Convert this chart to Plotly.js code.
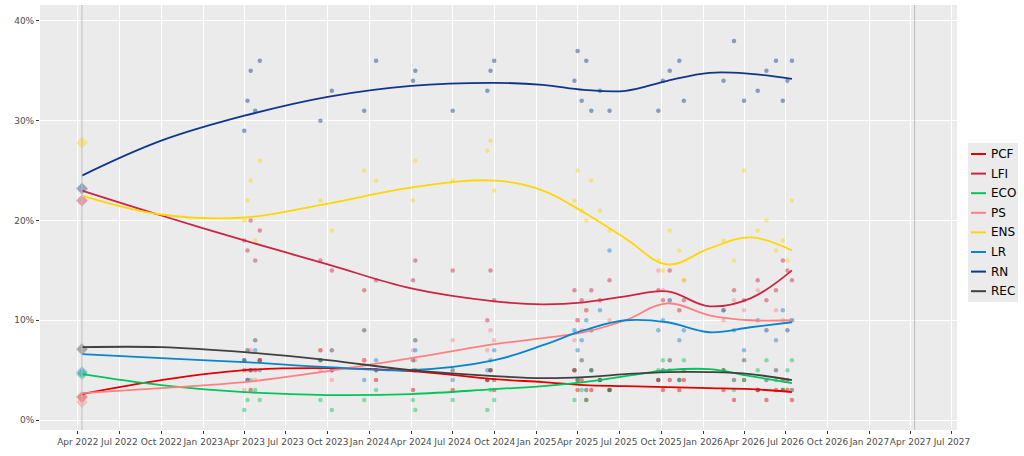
<!DOCTYPE html>
<html>
<head>
<meta charset="utf-8">
<script src="https://cdn.plot.ly/plotly-3.0.1.min.js"></script>
<style>body{margin:0;background:#fff}</style>
</head>
<body>
<div id="chart" style="width:1024px;height:456px"></div>
<script>
// parties and colours
var parties = ["PCF", "LFI", "ECO", "PS", "ENS", "LR", "RN", "REC"];
var colors = ["#e00000", "#cc2443", "#00c65a", "#ff8080", "#ffd600", "#0a85cc", "#0d378a", "#404040"];

// 2022 election result
var electionDate = "2022-04-10";
var electionVals = [2.3, 22.0, 4.6, 1.8, 27.8, 4.8, 23.2, 7.1];

// trend lines
var trendDates = ["2022-04-10", "2022-10-01", "2023-04-01", "2023-10-01", "2024-04-01", "2024-10-01",
                  "2025-01-15", "2025-04-15", "2025-07-15", "2025-10-15", "2026-01-15", "2026-04-15", "2026-07-15"];
var trend = {
  PCF: [2.6, 4.0, 5.0, 5.2, 4.9, 4.1, 3.8, 3.5, 3.4, 3.3, 3.2, 3.1, 2.8],
  LFI: [23.0, 20.5, 18.0, 15.6, 13.2, 11.9, 11.6, 11.8, 12.4, 12.9, 11.4, 12.2, 15.0],
  ECO: [4.6, 3.5, 2.8, 2.5, 2.6, 3.1, 3.4, 3.8, 4.4, 5.0, 5.1, 4.4, 3.7],
  PS:  [2.7, 3.2, 3.8, 4.9, 6.2, 7.6, 8.2, 8.8, 10.0, 11.7, 10.5, 10.0, 10.0],
  ENS: [22.5, 20.6, 20.3, 21.7, 23.3, 24.0, 23.0, 20.8, 18.2, 15.6, 17.2, 18.3, 17.0],
  LR:  [6.6, 6.2, 5.8, 5.3, 5.0, 6.0, 7.5, 9.0, 10.0, 9.8, 8.8, 9.3, 9.8],
  RN:  [24.5, 28.0, 30.5, 32.4, 33.5, 33.8, 33.6, 33.1, 33.0, 34.0, 34.8, 34.7, 34.2],
  REC: [7.3, 7.3, 6.8, 6.0, 5.0, 4.4, 4.2, 4.3, 4.6, 4.8, 4.8, 4.6, 4.0]
};

// polls
var pollDates = ["2023-04-01", "2023-04-08", "2023-04-15", "2023-04-25", "2023-05-05", "2023-09-15", "2023-10-10",
  "2023-12-20", "2024-01-15", "2024-04-05", "2024-04-10", "2024-07-01", "2024-09-15", "2024-09-22", "2024-09-30",
  "2025-03-25", "2025-04-01", "2025-04-10", "2025-04-20", "2025-05-01", "2025-05-20", "2025-06-10",
  "2025-09-25", "2025-10-05", "2025-10-20", "2025-11-10", "2025-11-20", "2026-02-15", "2026-03-10", "2026-04-01",
  "2026-05-01", "2026-05-20", "2026-06-10", "2026-06-25", "2026-07-05", "2026-07-15"];
var polls = {
  PCF: [5, 4, 3, 5, 6, 7, 5, 6, 4, 3, 5, 3, 4, 5, 3, 5, 3, 4, 2, 3, 4, 3, 4, 3, 4, 3, 4, 3, 2, 4, 3, 2, 3, 4, 3, 2],
  LFI: [18, 17, 20, 16, 19, 16, 15, 13, 14, 14, 16, 15, 10, 15, 12, 13, 10, 12, 11, 13, 12, 14, 13, 12, 15, 11, 12, 11, 13, 12, 14, 12, 13, 16, 15, 14],
  ECO: [1, 2, 4, 3, 2, 2, 1, 2, 3, 2, 1, 2, 1, 3, 2, 2, 4, 3, 2, 5, 4, 3, 5, 6, 5, 4, 6, 5, 3, 4, 5, 6, 4, 3, 5, 6],
  PS:  [3, 5, 7, 4, 6, 5, 4, 6, 5, 7, 6, 8, 7, 9, 8, 8, 10, 9, 11, 9, 12, 10, 15, 13, 12, 11, 14, 10, 12, 11, 13, 9, 11, 10, 9, 10],
  ENS: [20, 22, 24, 18, 26, 22, 19, 25, 24, 22, 26, 24, 27, 28, 23, 22, 25, 21, 20, 24, 21, 19, 16, 15, 19, 17, 14, 18, 16, 25, 19, 20, 17, 18, 16, 22],
  LR:  [6, 4, 5, 7, 5, 6, 5, 4, 6, 5, 7, 4, 5, 6, 7, 9, 7, 8, 10, 9, 11, 17, 9, 10, 12, 8, 9, 11, 9, 7, 10, 9, 8, 11, 9, 10],
  RN:  [29, 32, 35, 31, 36, 30, 33, 31, 36, 34, 35, 31, 33, 35, 36, 34, 37, 32, 36, 31, 33, 31, 31, 34, 35, 36, 32, 34, 38, 32, 33, 35, 36, 32, 34, 36],
  REC: [6, 7, 5, 8, 6, 6, 7, 9, 5, 6, 8, 5, 4, 5, 4, 5, 4, 6, 3, 5, 4, 3, 4, 5, 6, 4, 5, 5, 4, 6, 3, 4, 5, 3, 4, 3]
};

var data = [];
parties.forEach(function (p, i) {
  data.push({
    x: pollDates, y: polls[p], type: "scatter", mode: "markers",
    marker: { color: colors[i], size: 4.5, opacity: 0.45 },
    showlegend: false, hoverinfo: "skip"
  });
  data.push({
    x: [electionDate], y: [electionVals[i]], type: "scatter", mode: "markers",
    marker: { color: colors[i], size: 9, opacity: 0.4, symbol: "diamond" },
    showlegend: false, hoverinfo: "skip"
  });
});
parties.forEach(function (p, i) {
  data.push({
    x: trendDates, y: trend[p], type: "scatter", mode: "lines", name: p,
    line: { color: colors[i], width: 1.8, shape: "spline", smoothing: 1.1 },
    showlegend: false
  });
});

// compact legend (ggplot-style) drawn with shapes + annotations
var W = 917, H = 425, L = 40, T = 5;
function px(v) { return (v - L) / W; }
function py(v) { return (T + H - v) / H; }
var shapes = [
  { type: "line", xref: "x", yref: "paper", x0: "2022-04-10", x1: "2022-04-10", y0: 0, y1: 1, line: { color: "#bdbdbd", width: 1 } },
  { type: "line", xref: "x", yref: "paper", x0: "2027-04-10", x1: "2027-04-10", y0: 0, y1: 1, line: { color: "#bdbdbd", width: 1 } },
  { type: "rect", xref: "paper", yref: "paper", x0: px(968), x1: px(1018), y0: py(302), y1: py(143), fillcolor: "#ebebeb", line: { width: 0 }, layer: "below" }
];
var annotations = [];
parties.forEach(function (p, i) {
  var yy = 154 + 19.6 * i;
  shapes.push({ type: "line", xref: "paper", yref: "paper", x0: px(971), x1: px(986), y0: py(yy), y1: py(yy), line: { color: colors[i], width: 2 } });
  annotations.push({ xref: "paper", yref: "paper", x: px(989), y: py(yy), xanchor: "left", yanchor: "middle",
    text: p, showarrow: false, font: { size: 12, color: "#000" } });
});

var layout = {
  width: 1024, height: 456,
  margin: { l: 40, r: 67, t: 5, b: 26, autoexpand: false },
  paper_bgcolor: "#fff", plot_bgcolor: "#ebebeb",
  font: { family: "DejaVu Sans", size: 9, color: "#4d4d4d" },
  xaxis: {
    type: "date", range: ["2022-01-08", "2027-07-12"],
    tickvals: ["2022-04-01", "2022-07-01", "2022-10-01", "2023-01-01", "2023-04-01", "2023-07-01", "2023-10-01",
      "2024-01-01", "2024-04-01", "2024-07-01", "2024-10-01", "2025-01-01", "2025-04-01", "2025-07-01", "2025-10-01",
      "2026-01-01", "2026-04-01", "2026-07-01", "2026-10-01", "2027-01-01", "2027-04-01", "2027-07-01"],
    tickformat: "%b %Y", tickangle: 0, gridcolor: "#fff", gridwidth: 1,
    ticks: "outside", ticklen: 3, tickcolor: "#333", zeroline: false
  },
  yaxis: {
    range: [-1, 41.6], tickvals: [0, 10, 20, 30, 40], ticktext: ["0%", "10%", "20%", "30%", "40%"],
    gridcolor: "#fff", ticks: "outside", ticklen: 3, tickcolor: "#333", zeroline: false
  },
  shapes: shapes,
  annotations: annotations,
  showlegend: false
};

Plotly.newPlot("chart", data, layout, { displayModeBar: false, staticPlot: true });
</script>
</body>
</html>
